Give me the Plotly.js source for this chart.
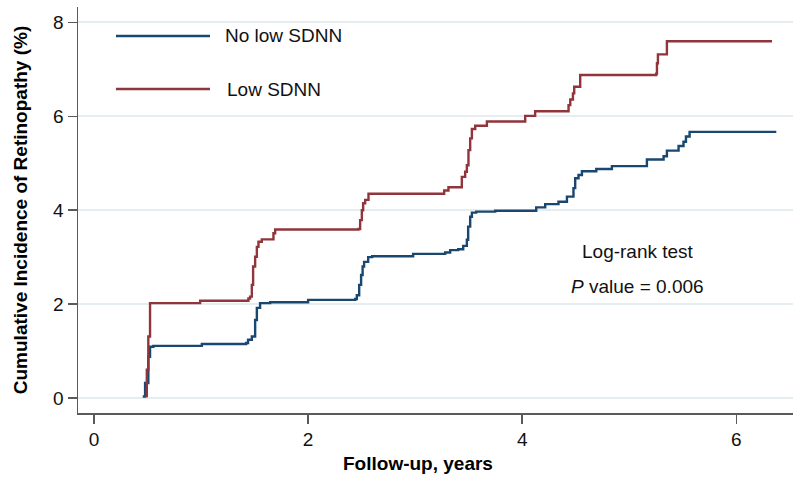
<!DOCTYPE html>
<html>
<head>
<meta charset="utf-8">
<script src="https://cdn.plot.ly/plotly-3.0.1.min.js"></script>
<style>html,body{margin:0;padding:0;background:#fff;}#chart{width:793px;height:477px;}</style>
</head>
<body>
<div id="chart"></div>
<script>
// Series names
const seriesNames = ["No low SDNN", "Low SDNN"];

// No low SDNN: follow-up (years) and cumulative incidence (%)
const noLowX = [0.455,0.477,0.507,0.523,0.554,1.007,1.421,1.439,1.474,1.505,1.521,1.551,1.645,2.000,2.440,2.455,2.477,2.495,2.509,2.523,2.561,2.598,2.981,3.280,3.327,3.402,3.449,3.483,3.495,3.514,3.530,3.570,3.748,4.131,4.215,4.339,4.418,4.479,4.495,4.526,4.558,4.692,4.838,5.165,5.321,5.352,5.461,5.507,5.530,5.564,6.374];
const noLowY = [0.03,0.32,0.88,1.09,1.11,1.15,1.17,1.24,1.31,1.66,1.92,2.02,2.04,2.09,2.11,2.19,2.41,2.62,2.80,2.90,3.00,3.02,3.07,3.10,3.15,3.17,3.24,3.37,3.65,3.86,3.95,3.97,3.99,4.06,4.13,4.18,4.29,4.47,4.68,4.75,4.83,4.88,4.94,5.08,5.15,5.27,5.37,5.46,5.57,5.67,5.67];

// Low SDNN
const lowX = [0.477,0.493,0.507,0.523,0.991,1.442,1.458,1.474,1.486,1.505,1.521,1.536,1.567,1.676,1.692,2.470,2.486,2.502,2.514,2.533,2.564,3.271,3.311,3.436,3.467,3.483,3.498,3.514,3.530,3.561,3.670,4.028,4.121,4.433,4.449,4.474,4.486,4.542,5.252,5.259,5.268,5.352,6.334];
const lowY = [0.04,0.60,1.31,2.02,2.07,2.12,2.16,2.41,2.80,3.01,3.22,3.33,3.38,3.51,3.59,3.60,3.79,4.00,4.15,4.22,4.35,4.42,4.49,4.71,4.82,4.96,5.28,5.53,5.73,5.80,5.89,6.01,6.11,6.24,6.36,6.49,6.63,6.88,6.91,7.13,7.32,7.60,7.60];

// Axis ticks
const xTicks = [0, 2, 4, 6];
const yTicks = [0, 2, 4, 6, 8];

// Texts
const xTitle = "Follow-up, years";
const yTitle = "Cumulative Incidence of Retinopathy (%)";
const testLabel = "Log-rank test";
const pLabel = "<i>P</i> value = 0.006";

const colors = ["#1a476f", "#90353b"];
const font = "Arial, 'Liberation Sans', Helvetica, sans-serif";

const traces = [
  {x: noLowX, y: noLowY, type: "scatter", mode: "lines", name: seriesNames[0],
   line: {color: colors[0], width: 2.4, shape: "hv"}, showlegend: false},
  {x: lowX, y: lowY, type: "scatter", mode: "lines", name: seriesNames[1],
   line: {color: colors[1], width: 2.4, shape: "hv"}, showlegend: false}
];

// plot area px: left 78, right 793, top 7, bottom 413
const legendRows = [0.9286, 0.798];

const layout = {
  width: 793, height: 477,
  margin: {l: 78, r: 0, t: 7, b: 64, pad: 0},
  paper_bgcolor: "#ffffff", plot_bgcolor: "#ffffff",
  font: {family: font, color: "#000", size: 18},
  xaxis: {
    range: [-0.15, 6.53], tickvals: xTicks, ticktext: xTicks.map(String),
    showgrid: false, zeroline: false, showline: true, linecolor: "#5a5a5a", linewidth: 1.5,
    ticks: "outside", ticklen: 9, tickwidth: 1.5, tickcolor: "#5a5a5a",
    tickfont: {size: 19, family: font, color: "#111"}
  },
  yaxis: {
    range: [-0.32, 8.33], tickvals: yTicks, ticktext: yTicks.map(String),
    showgrid: true, gridcolor: "#e6edf1", gridwidth: 2, zeroline: false,
    showline: true, linecolor: "#5a5a5a", linewidth: 1.5,
    ticks: "outside", ticklen: 9, tickwidth: 1.5, tickcolor: "#5a5a5a",
    tickfont: {size: 19, family: font, color: "#111"},
    title: {text: yTitle, font: {size: 19, family: font, weight: "bold", color: "#000"}, standoff: 20}
  },
  shapes: seriesNames.map((n, i) => ({
    type: "line", xref: "paper", yref: "paper",
    x0: 0.0531, x1: 0.1846, y0: legendRows[i], y1: legendRows[i],
    line: {color: colors[i], width: 2.4}
  })),
  annotations: [
    ...seriesNames.map((n, i) => ({
      text: n, xref: "paper", yref: "paper", x: i === 0 ? 0.2028 : 0.2056, y: legendRows[i],
      xanchor: "left", yanchor: "middle", showarrow: false,
      font: {size: 19, family: font, color: "#111"}
    })),
    {text: testLabel, xref: "paper", yref: "paper", x: 0.783, y: 0.3966,
     xanchor: "center", yanchor: "middle", showarrow: false, font: {size: 19, family: font, color: "#111"}},
    {text: pLabel, xref: "paper", yref: "paper", x: 0.783, y: 0.3128,
     xanchor: "center", yanchor: "middle", showarrow: false, font: {size: 19, family: font, color: "#111"}},
    {text: "<b>" + xTitle + "</b>", xref: "paper", yref: "paper", x: 0.4755, y: -0.1232,
     xanchor: "center", yanchor: "middle", showarrow: false, font: {size: 19, family: font, color: "#000"}}
  ]
};

Plotly.newPlot("chart", traces, layout, {displayModeBar: false, staticPlot: true});
</script>
</body>
</html>
